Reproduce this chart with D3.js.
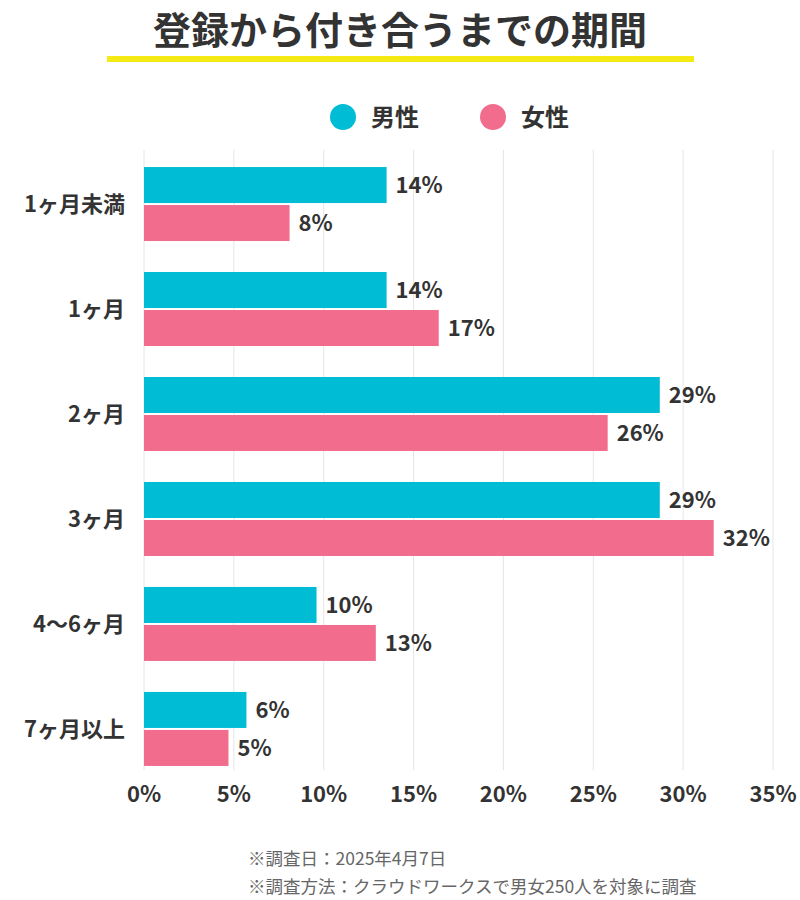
<!DOCTYPE html>
<html><head><meta charset="utf-8">
<script src="https://cdn.jsdelivr.net/npm/d3@7"></script>
<style>body{margin:0;background:#fff}text{font-family:"Noto Sans CJK JP","Noto Sans",sans-serif}</style>
</head><body><svg id="c" width="800" height="900"></svg>
<script>
const categories = ['1ヶ月未満','1ヶ月','2ヶ月','3ヶ月','4〜6ヶ月','7ヶ月以上']
const male = [13.5, 13.5, 28.7, 28.7, 9.6, 5.7]
const female = [8.1, 16.4, 25.8, 31.7, 12.9, 4.7]
const maleLabels = ['14%','14%','29%','29%','10%','6%']
const femaleLabels = ['8%','17%','26%','32%','13%','5%']
const ticks = [0,5,10,15,20,25,30,35]

const svg = d3.select('#c')
const x = d3.scaleLinear().domain([0,35]).range([144,773])
const y = d3.scaleBand().domain(categories).range([160,773]).paddingInner(0.295).paddingOuter(0.067)
const bh = 36

// title
svg.append('text').attr('x',400).attr('y',44).attr('text-anchor','middle')
  .attr('font-size',38).attr('font-weight',700).attr('fill','#333').text('登録から付き合うまでの期間')
svg.append('rect').attr('x',107).attr('y',56).attr('width',587).attr('height',6).attr('fill','#f5ea14')

// legend
const legend = [['男性','#00bcd4',343],['女性','#f26d8d',493]]
legend.forEach(([t,c,lx]) => {
  svg.append('circle').attr('cx',lx).attr('cy',117).attr('r',13).attr('fill',c)
  svg.append('text').attr('x',lx+28).attr('y',126).attr('font-size',24).attr('font-weight',700).attr('fill','#333').text(t)
})

// grid
svg.selectAll('.g').data(ticks).join('line')
  .attr('x1',d=>x(d)).attr('x2',d=>x(d)).attr('y1',150).attr('y2',770)
  .attr('stroke','#e6e6e6').attr('stroke-width',1)

svg.selectAll('.t').data(ticks).join('text')
  .attr('x',d=>x(d)).attr('y',802).attr('text-anchor','middle')
  .attr('font-size',22).attr('font-weight',700).attr('fill','#333').text(d=>d+'%')

svg.selectAll('.cat').data(categories).join('text')
  .attr('x',125).attr('y',d=>y(d)+bh+9).attr('text-anchor','end')
  .attr('font-size',22).attr('font-weight',700).attr('fill','#333').text(d=>d)

const series = [[male,maleLabels,'#00bcd4',0],[female,femaleLabels,'#f26d8d',bh+2]]
series.forEach(([vals,labs,col,off]) => {
  const g = svg.append('g')
  g.selectAll('rect').data(categories).join('rect')
    .attr('x',x(0)).attr('y',d=>y(d)+off).attr('height',bh)
    .attr('width',(d,i)=>x(vals[i])-x(0)).attr('fill',col)
  g.selectAll('text').data(categories).join('text')
    .attr('x',(d,i)=>x(vals[i])+9).attr('y',(d,i)=>y(d)+off+bh/2+8)
    .attr('font-size',22).attr('font-weight',700).attr('fill','#333').text((d,i)=>labs[i])
})

svg.append('text').attr('x',248).attr('y',865).attr('font-size',17.5).attr('fill','#666').text('※調査日：2025年4月7日')
svg.append('text').attr('x',248).attr('y',893).attr('font-size',17.5).attr('fill','#666').text('※調査方法：クラウドワークスで男女250人を対象に調査')
</script></body></html>
